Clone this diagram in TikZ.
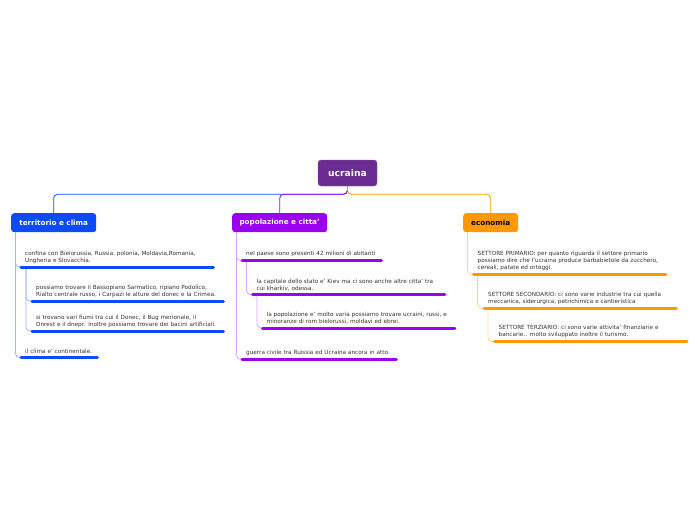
\documentclass[tikz,border=0pt]{standalone}
\usepackage{fontspec}
\setmainfont{DejaVu Sans}
\definecolor{rootc}{HTML}{6A2C91}
\definecolor{bluec}{HTML}{0A4BFF}
\definecolor{purpc}{HTML}{9B00F0}
\definecolor{orac}{HTML}{FF9900}
\definecolor{bluel}{HTML}{9DB8FF}
\definecolor{purpl}{HTML}{D9A5FF}
\definecolor{oral}{HTML}{FFD38A}
\definecolor{txt}{HTML}{333333}
\tikzset{
  rootbox/.style={fill=rootc, draw=rootc!80!white, rounded corners=3pt, text=white, font=\fontsize{9.2}{10}\selectfont\bfseries, minimum width=59pt, minimum height=26pt, inner sep=0pt},
  mainbox/.style={rounded corners=3pt, font=\fontsize{7.2}{8}\selectfont\bfseries, minimum height=19pt, inner sep=0pt, anchor=north west},
  sub/.style={anchor=south west, align=left, text=txt, font=\fontsize{5.7}{7}\selectfont, inner xsep=5pt, inner ysep=3.3pt},
  ul/.style={line width=3pt, line cap=round, shorten <=1pt, shorten >=1pt},
  con/.style={line width=0.8pt, rounded corners=4pt},
}
\begin{document}
\begin{tikzpicture}[x=1pt,y=-1pt]
\useasboundingbox[fill=white] (0,0) rectangle (696,520);
% root
\node[rootbox] (root) at (347.5,173) {ucraina};
% main branches
\node[mainbox, fill=bluec, text=white, minimum width=85pt] (tc) at (11,213) {territorio e clima};
\node[mainbox, fill=purpc, text=white, minimum width=95pt] (pc) at (232,213) {popolazione e citta'};
\node[mainbox, fill=orac, text=black, minimum width=55pt] (ec) at (463,213) {economia};
\draw[con, bluec] (root.south) -- ++(0,8) -| (tc.north);
\draw[con, purpc] (root.south) -- ++(0,8) -| (pc.north);
\draw[con, orac] (root.south) -- ++(0,8) -| (ec.north);

% territorio
\node[sub, text width=184pt] (c1) at (20,267) {confina con Bielorussia, Russia, polonia, Moldavia,Romania,\\Ungheria e Slovacchia.};
\node[sub, text width=183pt] (c1a) at (31,301) {possiamo trovare il Bassopiano Sarmatico, ripiano Podolico,\\Rialto centrale russo, i Carpazi le alture del donec e la Crimea.};
\node[sub, text width=183pt] (c1b) at (31,331) {si trovano vari fiumi tra cui il Donec, il Bug merionale, il\\Dnrest e il dnepr. inoltre possiamo trovare dei bacini artificiali.};
\node[sub, text width=68pt] (c2) at (20,357.5) {il clima e' continentale.};
\draw[con, bluel] ([xshift=4.5pt]tc.south west) |- (c1.south west);
\draw[con, bluel] ([xshift=4.5pt]tc.south west) |- (c2.south west);
\draw[con, bluel] ([xshift=6pt]c1.south west) |- (c1a.south west);
\draw[con, bluel] ([xshift=6pt]c1.south west) |- (c1b.south west);
\foreach \n in {c1,c1a,c1b,c2} \draw[ul, bluec] (\n.south west) -- (\n.south east);

% popolazione
\node[sub, text width=131pt] (p1) at (241,260.5) {nel paese sono presenti 42 milioni di abitanti};
\node[sub, text width=184pt] (p1a) at (251.5,294.5) {la capitale dello stato e' Kiev ma ci sono anche altre citta' tra\\cui kharkiv, odessa.};
\node[sub, text width=184pt] (p1b) at (261.5,328) {la popolazione e' molto varia possiamo trovare ucraini, russi, e\\minoranze di rom bielorussi, moldavi ed ebrei.};
\node[sub, text width=146pt] (p2) at (241,359) {guerra civile tra Ruissia ed Ucraina ancora in atto.};
\draw[con, purpl] ([xshift=4.5pt]pc.south west) |- (p1.south west);
\draw[con, purpl] ([xshift=4.5pt]pc.south west) |- (p2.south west);
\draw[con, purpl] ([xshift=5.5pt]p1.south west) |- (p1a.south west);
\draw[con, purpl] ([xshift=5.5pt]p1a.south west) |- (p1b.south west);
\foreach \n in {p1,p1a,p1b,p2} \draw[ul, purpc] (\n.south west) -- (\n.south east);

% economia
\node[sub, text width=184pt] (e1) at (472.5,274) {SETTORE PRIMARIO: per quanto riguarda il settore primario\\possiamo dire che l'ucraina produce barbabietole da zucchero,\\cereali, patate ed orteggi.};
\node[sub, text width=184pt] (e1a) at (483,308) {SETTORE SECONDARIO: ci sono varie industrie tra cui quella\\meccanica, siderurgica, petrichimica e cantieristica};
\node[sub, text width=184pt] (e1b) at (493.5,341.5) {SETTORE TERZIARIO: ci sono varie attivita' finanziarie e\\bancarie.. molto sviluppato inoltre il turismo.};
\draw[con, oral] ([xshift=4.5pt]ec.south west) |- (e1.south west);
\draw[con, oral] ([xshift=5pt]e1.south west) |- (e1a.south west);
\draw[con, oral] ([xshift=5pt]e1a.south west) |- (e1b.south west);
\foreach \n in {e1,e1a,e1b} \draw[ul, orac] (\n.south west) -- (\n.south east);
\end{tikzpicture}
\end{document}
